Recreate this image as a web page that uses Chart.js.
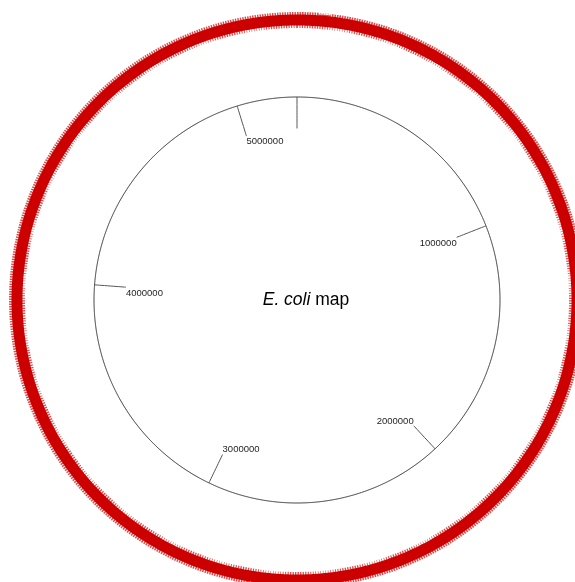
<!DOCTYPE html>
<html>
<head>
<meta charset="utf-8">
<title>E. coli map</title>
<script src="https://cdn.jsdelivr.net/npm/chart.js@4/dist/chart.umd.min.js"></script>
<style>
  html, body { margin: 0; padding: 0; background: #fff; overflow: hidden; }
  #wrap { position: absolute; left: 0; top: 0; width: 575px; height: 582px; }
</style>
</head>
<body>
<div id="wrap"><canvas id="map"></canvas></div>
<script>
// ---- data -------------------------------------------------------------
// genome coordinate covered by one full turn of the map
const genomeLength = 5250000;
// positions of the coordinate ticks on the inner axis circle
const tickPositions = [0, 1000000, 2000000, 3000000, 4000000, 5000000];
const tickLabels = ['', '1000000', '2000000', '3000000', '4000000', '5000000'];
// annotated gene track drawn as the outer red band
const geneSpans = [[0, 5250000]];
const mapTitle = { italic: 'E. coli', plain: ' map' };

// ---- geometry helpers (radius in axis-circle units) -------------------
const UNIT_PX = 203;            // pixels per axis-circle radius
const CX = 297, CY = 300;       // circle centre on the canvas
const W = 575, H = 582;
const AXIS_R = 1.0;
const TICK_R = 0.845;           // inner end of the ticks
const GENE_R = 280 / UNIT_PX;   // middle of the gene band
const GENE_IN = 273.5 / UNIT_PX;
const GENE_OUT = 286.5 / UNIT_PX;

function polar(pos, r) {
  const a = pos / genomeLength * 2 * Math.PI;
  return { x: r * Math.sin(a), y: r * Math.cos(a) };
}
function arcPoints(start, end, r) {
  const pts = [];
  const step = genomeLength / 720;
  for (let p = start; p < end - step / 2; p += step) pts.push(polar(p, r));
  pts.push(polar(end, r));
  return pts;
}

const datasets = [];

// gene band: soft edges first, then the solid core
geneSpans.forEach(([s, e]) => {
  datasets.push({ data: arcPoints(s, e, GENE_OUT), borderColor: 'rgba(204,0,0,0.7)',
                  borderWidth: 3, borderDash: [1.5, 1] });
  datasets.push({ data: arcPoints(s, e, GENE_IN), borderColor: 'rgba(204,0,0,0.7)',
                  borderWidth: 3, borderDash: [1, 1.5] });
  datasets.push({ data: arcPoints(s, e, GENE_R), borderColor: '#cc0000', borderWidth: 11 });
});

// axis circle
datasets.push({ data: arcPoints(0, genomeLength, AXIS_R), borderColor: '#2a2a2a', borderWidth: 1 });

// coordinate ticks
tickPositions.forEach(p => {
  datasets.push({ data: [polar(p, AXIS_R), polar(p, TICK_R)], borderColor: '#555', borderWidth: 1 });
});

// tick labels sit at the inner end of each tick, extending toward the centre
const tickLabelPlugin = {
  id: 'tickLabels',
  afterDatasetsDraw(chart) {
    const { ctx, scales: { x, y } } = chart;
    ctx.save();
    ctx.fillStyle = '#1e1e1e';
    ctx.font = '9.5px "Liberation Sans", Arial, sans-serif';
    tickPositions.forEach((p, i) => {
      if (!tickLabels[i]) return;
      const pt = polar(p, TICK_R);
      const px = x.getPixelForValue(pt.x), py = y.getPixelForValue(pt.y);
      ctx.textAlign = pt.x > 0 ? 'right' : 'left';
      ctx.textBaseline = pt.y > 0 ? 'top' : 'bottom';
      ctx.fillText(tickLabels[i], px, py + (pt.y > 0 ? 1 : 0));
    });
    // map title in the centre
    const fontI = 'italic 17.5px "Liberation Sans", Arial, sans-serif';
    const fontN = '17.5px "Liberation Sans", Arial, sans-serif';
    ctx.font = fontI; const wI = ctx.measureText(mapTitle.italic).width;
    ctx.font = fontN; const wN = ctx.measureText(mapTitle.plain).width;
    const cx = x.getPixelForValue(0) + 9, cy = y.getPixelForValue(0);
    let left = cx - (wI + wN) / 2;
    ctx.textAlign = 'left';
    ctx.textBaseline = 'middle';
    ctx.fillStyle = '#000';
    ctx.font = fontI; ctx.fillText(mapTitle.italic, left, cy);
    ctx.font = fontN; ctx.fillText(mapTitle.plain, left + wI, cy);
    ctx.restore();
  }
};

new Chart(document.getElementById('map'), {
  type: 'scatter',
  data: { datasets: datasets.map(d => Object.assign({
    showLine: true, pointRadius: 0, pointHoverRadius: 0, fill: false,
    tension: 0.01, borderJoinStyle: 'round', clip: false
  }, d)) },
  options: {
    responsive: true,
    maintainAspectRatio: false,
    animation: false,
    events: [],
    layout: { padding: 0 },
    plugins: { legend: { display: false }, tooltip: { enabled: false }, title: { display: false } },
    scales: {
      x: { type: 'linear', display: false, min: -CX / UNIT_PX, max: (W - CX) / UNIT_PX },
      y: { type: 'linear', display: false, min: -(H - CY) / UNIT_PX, max: CY / UNIT_PX }
    }
  },
  plugins: [tickLabelPlugin]
});
</script>
</body>
</html>
